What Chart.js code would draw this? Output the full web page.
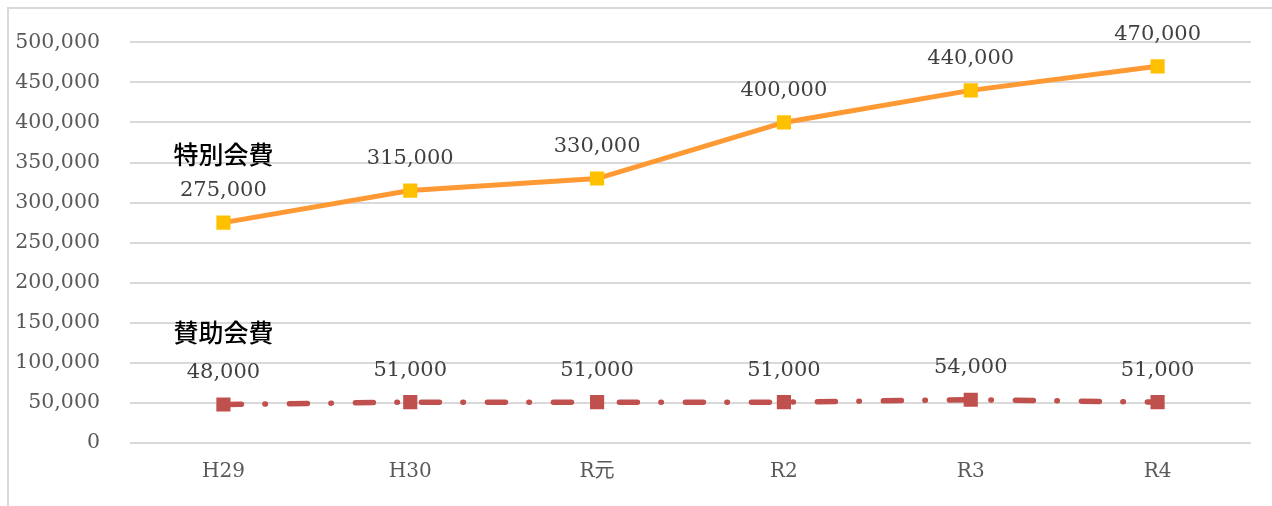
<!DOCTYPE html>
<html>
<head>
<meta charset="utf-8">
<script src="https://cdn.jsdelivr.net/npm/chart.js@4/dist/chart.umd.min.js"></script>
<style>
  html, body { margin: 0; padding: 0; background: #fff; }
  #wrap { position: relative; width: 1272px; height: 506px; overflow: hidden; }
  #frame { position: absolute; left: 7px; top: 7px; width: 1300px; height: 600px; border: 2px solid #d9d9d9; box-sizing: border-box; }
  #chart { position: absolute; left: 0; top: 0; }
</style>
</head>
<body>
<div id="wrap">
  <div id="frame"></div>
  <canvas id="chart" width="1272" height="506"></canvas>
</div>
<script>
// データ
const years = ["H29", "H30", "R元", "R2", "R3", "R4"];
const specialFees = [275000, 315000, 330000, 400000, 440000, 470000];
const supportFees = [48000, 51000, 51000, 51000, 54000, 51000];
const seriesNames = ["特別会費", "賛助会費"];
// 系列名ラベルの位置(H29列・値)
const nameAnchorValues = [360000, 138000];

const serif = "'DejaVu Serif', 'Liberation Serif', 'Noto Sans CJK JP', serif";

// 数値ラベルと系列名を描くプラグイン
const labelPlugin = {
    id: "labels",
    afterDatasetsDraw(chart) {
        const ctx = chart.ctx;
        const xs = chart.scales.x;
        const ys = chart.scales.y;
        ctx.save();
        ctx.textAlign = "center";
        ctx.textBaseline = "middle";
        ctx.fillStyle = "#404040";
        ctx.font = "21px " + serif;
        chart.data.datasets.forEach((ds, i) => {
            const meta = chart.getDatasetMeta(i);
            meta.data.forEach((pt, j) => {
                ctx.fillText(ds.data[j].toLocaleString("en-US"), pt.x, pt.y - 32);
            });
        });
        ctx.fillStyle = "#000";
        ctx.font = "500 25px 'Noto Sans CJK JP', sans-serif";
        seriesNames.forEach((name, i) => {
            ctx.fillText(name, xs.getPixelForValue(0), ys.getPixelForValue(nameAnchorValues[i]));
        });
        ctx.restore();
    }
};

new Chart(document.getElementById("chart"), {
    type: "line",
    data: {
        labels: years,
        datasets: [
            {
                label: seriesNames[0],
                data: specialFees,
                borderColor: "#FF9933",
                borderWidth: 5,
                pointStyle: "rect",
                pointRadius: 10,
                pointBackgroundColor: "#FFC000",
                pointBorderWidth: 0,
                tension: 0
            },
            {
                label: seriesNames[1],
                data: supportFees,
                borderColor: "#C0504D",
                borderWidth: 5.5,
                borderCapStyle: "round",
                borderDash: [18, 23.5, 0.5, 24],
                pointStyle: "rect",
                pointRadius: 10,
                pointBackgroundColor: "#C0504D",
                pointBorderWidth: 0,
                tension: 0
            }
        ]
    },
    options: {
        responsive: false,
        animation: false,
        layout: { padding: { top: 39, right: 21, left: 0, bottom: 0 } },
        plugins: {
            legend: { display: false },
            tooltip: { enabled: false }
        },
        scales: {
            x: {
                offset: true,
                grid: { display: false, drawTicks: false },
                border: { display: false },
                ticks: {
                    color: "#595959",
                    font: { family: serif, size: 20 },
                    padding: 17
                },
                afterFit(scale) { scale.height = 63; }
            },
            y: {
                min: 0,
                max: 500000,
                grid: { color: "#d9d9d9", lineWidth: 2, drawTicks: false },
                border: { display: false },
                ticks: {
                    stepSize: 50000,
                    color: "#595959",
                    font: { family: serif, size: 20.5 },
                    padding: 30,
                    callback: v => v.toLocaleString("en-US")
                },
                afterFit(scale) { scale.width = 130; }
            }
        }
    },
    plugins: [labelPlugin]
});
</script>
</body>
</html>
